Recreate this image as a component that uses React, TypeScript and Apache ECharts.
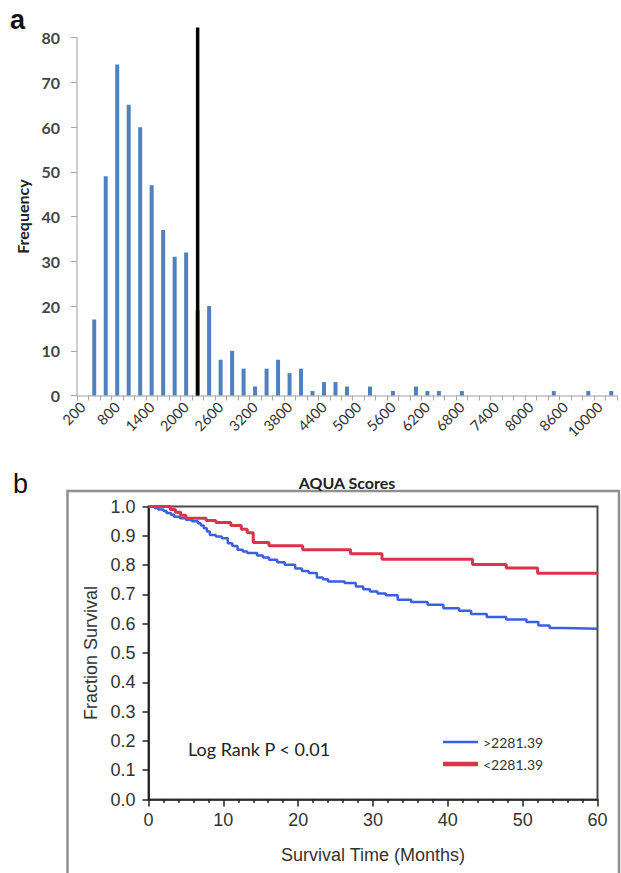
import React, { useEffect, useRef } from "react";
import * as echarts from "echarts";

// ---------- Panel a: histogram of AQUA scores ----------
const binLabels = [
  "200", "400", "600", "800", "1000", "1200", "1400", "1600", "1800", "2000",
  "2200", "2400", "2600", "2800", "3000", "3200", "3400", "3600", "3800", "4000",
  "4200", "4400", "4600", "4800", "5000", "5200", "5400", "5600", "5800", "6000",
  "6200", "6400", "6600", "6800", "7000", "7200", "7400", "7600", "7800", "8000",
  "8200", "8400", "8600", "8800", "9000", "10000", "10200",
];
const binCounts = [
  0, 17, 49, 74, 65, 60, 47, 37, 31, 32,
  19, 20, 8, 10, 6, 2, 6, 8, 5, 6,
  1, 3, 3, 2, 0, 2, 0, 1, 0, 2,
  1, 1, 0, 1, 0, 0, 0, 0, 0, 0,
  0, 1, 0, 0, 1, 0, 1,
];
const cutoffBin = "2200";
const cutoffTop = 82.3;
const cutoffValue = "2281.39";

// ---------- Panel b: Kaplan-Meier survival ----------
const highTime = [
  0, 0.8, 1.3, 2.0, 2.4, 3.0, 3.4, 4.2, 5.0, 5.8,
  6.6, 7.0, 7.4, 7.8, 8.2, 9.0, 9.8, 10.6, 11.2, 11.9,
  12.6, 13.2, 14.5, 15.3, 16.1, 17.2, 18.2, 19.6, 20.5, 21.4,
  22.5, 23.3, 24.0, 26.2, 27.7, 28.7, 29.6, 30.6, 31.7, 33.3,
  35.1, 37.3, 39.4, 41.5, 43.1, 45.2, 47.8, 50.5, 52.1, 53.6,
  55.5, 60,
];
const highSurv = [
  1.0, 0.995, 0.99, 0.985, 0.978, 0.972, 0.965, 0.96, 0.955, 0.95,
  0.943, 0.935, 0.926, 0.915, 0.903, 0.898, 0.892, 0.875, 0.865, 0.852,
  0.846, 0.841, 0.833, 0.826, 0.818, 0.81, 0.801, 0.788, 0.78, 0.773,
  0.758, 0.752, 0.744, 0.739, 0.727, 0.718, 0.71, 0.703, 0.697, 0.682,
  0.674, 0.665, 0.653, 0.644, 0.633, 0.623, 0.614, 0.606, 0.594, 0.585,
  0.583, 0.583,
];
const lowTime = [0, 2.9, 3.6, 4.3, 5.0, 7.7, 9.0, 11.0, 12.4, 13.2, 14.0, 16.1, 20.6, 27.0, 31.2, 43.3, 47.8, 52.0, 60];
const lowSurv = [1.0, 0.99, 0.98, 0.97, 0.96, 0.952, 0.945, 0.935, 0.922, 0.91, 0.877, 0.866, 0.852, 0.839, 0.82, 0.802, 0.79, 0.772, 0.772];

const highName = ">" + cutoffValue;
const lowName = "<" + cutoffValue;
const statText = "Log Rank P < 0.01";

const BLUE_BAR = "#4F81BD";
const BLUE = "#3a5fe3";
const RED = "#d9344a";
const ARIAL = "'Liberation Sans', Arial, sans-serif";
const CAL = "Lato, 'Open Sans', sans-serif";

export default function App() {
  const ref = useRef<HTMLDivElement>(null);

  useEffect(() => {
    if (!ref.current) return;
    const chart = echarts.init(ref.current, null, { renderer: "svg" });
    const zip = (t: number[], s: number[]) => t.map((v, i) => [v, s[i]]);

    chart.setOption({
      animation: false,
      textStyle: { fontFamily: CAL },
      grid: [
        { left: 77, top: 37.7, width: 540, height: 357.8 },
        { left: 148.5, top: 506.5, width: 449, height: 293, show: true, borderColor: "#4a4a4a", borderWidth: 2, backgroundColor: "transparent" },
      ],
      xAxis: [
        {
          gridIndex: 0,
          type: "category",
          data: binLabels,
          boundaryGap: true,
          name: "AQUA Scores",
          nameLocation: "middle",
          nameGap: 79,
          nameTextStyle: { fontWeight: "bold", fontSize: 16, color: "#222", fontFamily: CAL },
          axisLine: { lineStyle: { color: "#bfbfbf", width: 1.5 } },
          axisTick: { show: true, interval: 0, length: 5, lineStyle: { color: "#a6a6a6" } },
          axisLabel: { interval: 2, rotate: 45, fontSize: 14.5, color: "#333", margin: 9, fontFamily: CAL },
          splitLine: { show: false },
        },
        {
          gridIndex: 1,
          type: "value",
          min: 0,
          max: 60,
          interval: 10,
          name: "Survival Time (Months)",
          nameLocation: "middle",
          nameGap: 46,
          nameTextStyle: { fontSize: 18, color: "#333", fontFamily: ARIAL },
          axisLine: { onZero: false, lineStyle: { color: "#222", width: 1.5 } },
          axisTick: { length: 7, lineStyle: { color: "#222", width: 1.5 } },
          minorTick: { show: true, splitNumber: 5, length: 3.5, lineStyle: { color: "#222", width: 1.5 } },
          axisLabel: { fontSize: 18, color: "#333", margin: 11, fontFamily: ARIAL },
          splitLine: { show: false },
          minorSplitLine: { show: false },
        },
      ],
      yAxis: [
        {
          gridIndex: 0,
          type: "value",
          min: 0,
          max: 80,
          interval: 10,
          name: "Frequency",
          nameLocation: "middle",
          nameGap: 46,
          nameTextStyle: { fontWeight: "bold", fontSize: 16, color: "#222", fontFamily: CAL },
          axisLine: { show: true, lineStyle: { color: "#bfbfbf", width: 1.5 } },
          axisTick: { show: true, length: 6, lineStyle: { color: "#a6a6a6" } },
          axisLabel: { fontSize: 16, color: "#444", margin: 17, fontFamily: CAL, fontWeight: "bold" },
          splitLine: { show: false },
        },
        {
          gridIndex: 1,
          type: "value",
          min: 0,
          max: 1,
          interval: 0.1,
          name: "Fraction Survival",
          nameLocation: "middle",
          nameGap: 46,
          nameTextStyle: { fontSize: 18, color: "#333", fontFamily: ARIAL },
          axisLine: { show: true, onZero: false, lineStyle: { color: "#111", width: 1.5 } },
          axisTick: { show: true, length: 6, lineStyle: { color: "#222", width: 1.5 } },
          axisLabel: { fontSize: 18, color: "#333", margin: 13, fontFamily: ARIAL, formatter: (v: number) => v.toFixed(1) },
          splitLine: { show: false },
        },
      ],
      legend: [
        {
          data: [highName],
          left: 443,
          top: 735,
          padding: 0,
          icon: "rect",
          itemWidth: 35,
          itemHeight: 2.5,
          textStyle: { fontSize: 14, color: "#333", fontFamily: CAL },
        },
        {
          data: [lowName],
          left: 443,
          top: 757,
          padding: 0,
          icon: "rect",
          itemWidth: 35,
          itemHeight: 4.5,
          textStyle: { fontSize: 14, color: "#333", fontFamily: CAL },
        },
      ],
      series: [
        {
          type: "bar",
          xAxisIndex: 0,
          yAxisIndex: 0,
          data: binCounts,
          barWidth: 4,
          itemStyle: { color: BLUE_BAR },
          silent: true,
        },
        {
          type: "line",
          xAxisIndex: 0,
          yAxisIndex: 0,
          data: [[cutoffBin, 0], [cutoffBin, cutoffTop]],
          symbol: "none",
          clip: false,
          z: 5,
          lineStyle: { color: "#000", width: 3.5 },
          silent: true,
        },
        {
          type: "line",
          name: highName,
          xAxisIndex: 1,
          yAxisIndex: 1,
          data: zip(highTime, highSurv),
          step: "end",
          symbol: "none",
          color: BLUE,
          itemStyle: { color: BLUE },
          lineStyle: { color: BLUE, width: 2.5 },
          z: 3,
        },
        {
          type: "line",
          name: lowName,
          xAxisIndex: 1,
          yAxisIndex: 1,
          data: zip(lowTime, lowSurv),
          step: "end",
          symbol: "none",
          color: RED,
          itemStyle: { color: RED },
          lineStyle: { color: RED, width: 3 },
          z: 4,
        },
      ],
      graphic: [
        {
          type: "rect",
          silent: true,
          shape: { x: 67.5, y: 491, width: 551.5, height: 420 },
          style: { fill: "none", stroke: "#8f8f8f", lineWidth: 2.5 },
        },
        {
          type: "text",
          left: 10,
          top: 6,
          style: { text: "a", fontSize: 27, fontWeight: "bold", fill: "#111", fontFamily: ARIAL },
        },
        {
          type: "text",
          left: 13,
          top: 470,
          style: { text: "b", fontSize: 27, fill: "#111", fontFamily: ARIAL },
        },
        {
          type: "text",
          left: 188,
          top: 740,
          style: { text: statText, fontSize: 18, fill: "#222", fontFamily: CAL },
        },
      ],
    });

    return () => chart.dispose();
  }, []);

  return <div ref={ref} style={{ position: "absolute", left: 0, top: 0, width: 621, height: 873 }} />;
}
